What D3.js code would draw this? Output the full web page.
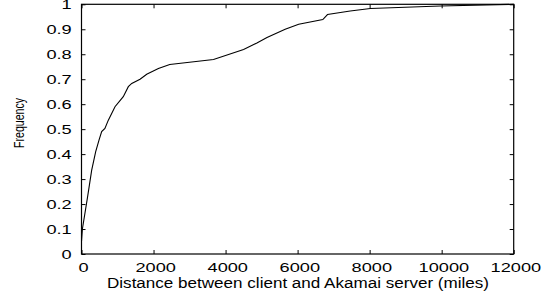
<!DOCTYPE html>
<meta charset="utf-8">
<style>
body { margin: 0; background: #fff; }
svg { display: block; font-family: 'Liberation Sans', Arial, sans-serif; }
.frame { fill: none; stroke: #000; stroke-width: 1.2px; }
.cdf { fill: none; stroke: #000; stroke-width: 1.1px; }
.axis path { display: none; }
.axis line { stroke: #000; stroke-width: 1px; }
.axis text { fill: #000; font-size: 13px; }
</style>
<body>
<script src="https://d3js.org/d3.v7.min.js"></script>
<script>

var distance = [0, 25, 170, 283, 394, 486, 560, 650, 745, 930, 1160, 1300, 1395, 1625,
                1810, 2135, 2450, 3665, 4500, 4870, 5150, 5655, 6030, 6700, 6830, 7460,
                8020, 9960, 12000];
var freq = [0.05, 0.1, 0.23, 0.336, 0.41, 0.456, 0.49, 0.503, 0.536, 0.59, 0.63, 0.67, 0.683,
            0.70, 0.72, 0.743, 0.759, 0.779, 0.819, 0.845, 0.867, 0.9, 0.92, 0.939, 0.959,
            0.973, 0.983, 0.993, 1.0];
var xTicks = [0, 2000, 4000, 6000, 8000, 10000, 12000];
var yTicks = [0, 0.1, 0.2, 0.3, 0.4, 0.5, 0.6, 0.7, 0.8, 0.9, 1];

var W = 554, H = 298;
var mLeft = 81.5, mRight = 513.7, mTop = 4.3, mBottom = 254;
var stretch = 1.4; // the figure is wider than tall, glyphs too

var svg = d3.select("body").append("svg")
    .attr("width", W)
    .attr("height", H);

var x = d3.scaleLinear().domain([0, 12000]).range([mLeft, mRight]);
var y = d3.scaleLinear().domain([0, 1]).range([mBottom, mTop]);

// ticks point inward on all four sides
var xb = svg.append("g").attr("class", "axis")
    .attr("transform", "translate(0," + mBottom + ")")
    .call(d3.axisBottom(x).tickValues(xTicks).tickSize(-4).tickPadding(6).tickFormat(d3.format("d")));
xb.selectAll("text")
    .attr("dx", 1.2)
    .attr("dy", "0.95em")
    .attr("transform", "scale(" + stretch + ",1)");

svg.append("g").attr("class", "axis")
    .attr("transform", "translate(0," + mTop + ")")
    .call(d3.axisTop(x).tickValues(xTicks).tickSize(-4).tickFormat(""));

var yl = svg.append("g").attr("class", "axis")
    .attr("transform", "translate(" + mLeft + ",0)")
    .call(d3.axisLeft(y).tickValues(yTicks).tickSize(-4).tickPadding(7).tickFormat(d3.format("")));
yl.selectAll("text")
    .attr("x", -7)
    .attr("transform", "scale(" + stretch + ",1)");

svg.append("g").attr("class", "axis")
    .attr("transform", "translate(" + mRight + ",0)")
    .call(d3.axisRight(y).tickValues(yTicks).tickSize(-4).tickFormat(""));

svg.append("rect").attr("class", "frame")
    .attr("x", mLeft).attr("y", mTop)
    .attr("width", mRight - mLeft).attr("height", mBottom - mTop);

var line = d3.line()
    .x(function(d, i) { return x(distance[i]); })
    .y(function(d, i) { return y(freq[i]); });

svg.append("path").attr("class", "cdf")
    .datum(freq)
    .attr("d", line);

svg.append("text")
    .attr("x", 298)
    .attr("y", 288)
    .attr("text-anchor", "middle")
    .attr("font-size", 14)
    .attr("textLength", 382)
    .attr("lengthAdjust", "spacingAndGlyphs")
    .text("Distance between client and Akamai server (miles)");

svg.append("text")
    .attr("transform", "translate(24,123) scale(" + stretch + ",1) rotate(-90)")
    .attr("text-anchor", "middle")
    .attr("font-size", 11)
    .attr("textLength", 50)
    .attr("lengthAdjust", "spacingAndGlyphs")
    .text("Frequency");

</script>
</body>
